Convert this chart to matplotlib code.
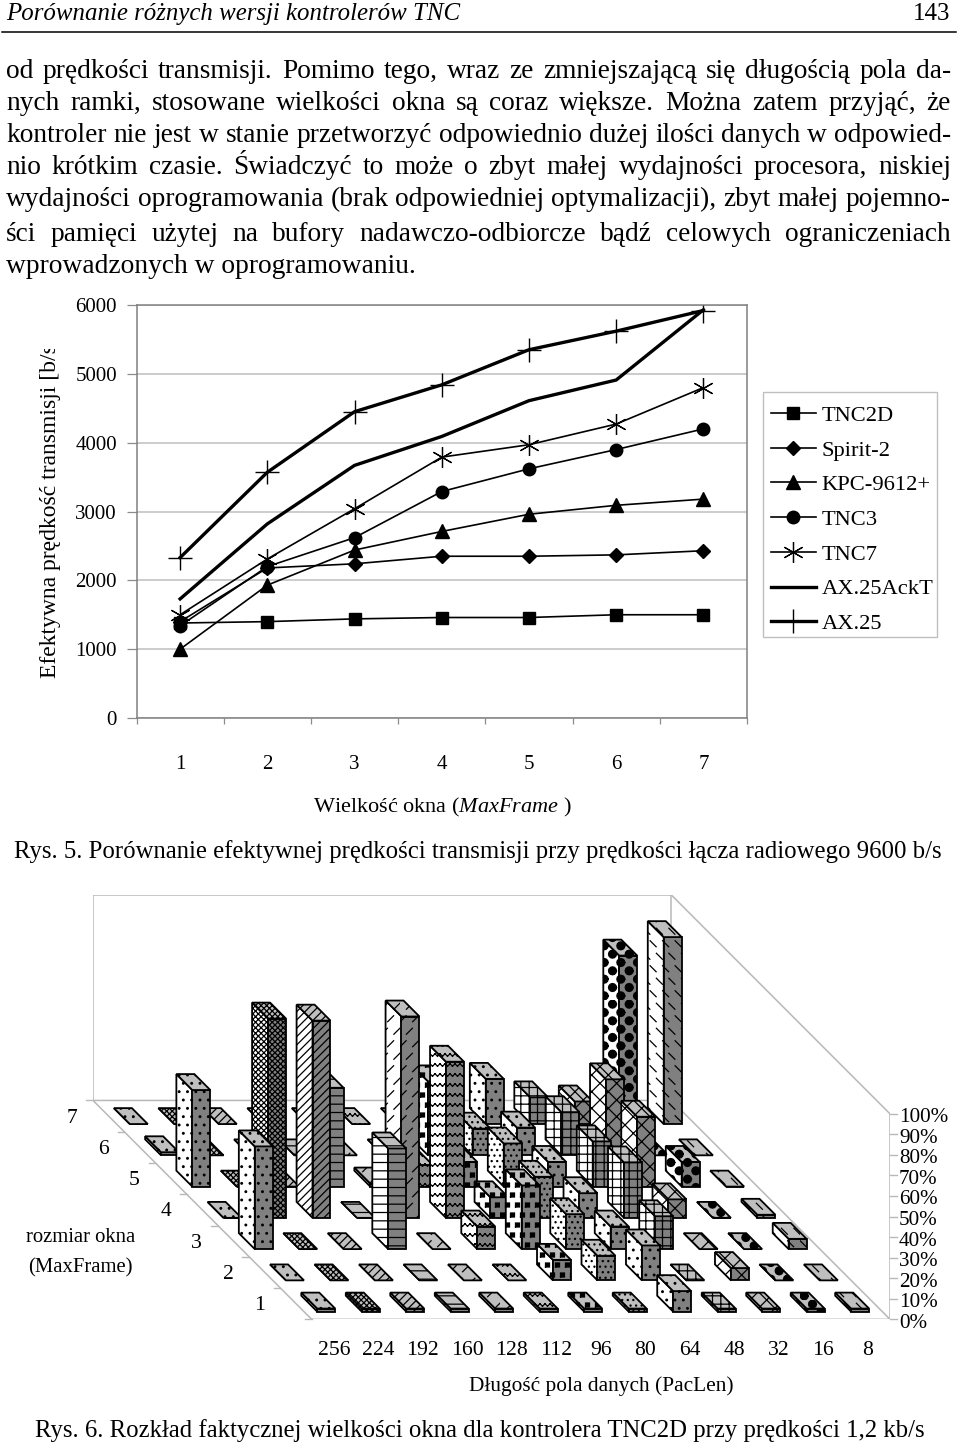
import warnings
import numpy as np
import matplotlib
matplotlib.use("Agg")
import matplotlib.pyplot as plt
import matplotlib.hatch as mhatch
from matplotlib.path import Path
from matplotlib.patches import Polygon, Rectangle

warnings.simplefilter('ignore')  # own hatch letters below are not on the official list

plt.rcParams['font.family'] = ['Liberation Serif', 'DejaVu Serif']
plt.rcParams['mathtext.fontset'] = 'custom'
plt.rcParams['mathtext.rm'] = 'Liberation Serif'
plt.rcParams['mathtext.it'] = 'Liberation Serif:italic'
plt.rcParams['hatch.linewidth'] = 0.9

# page text
header_left = "Porównanie różnych wersji kontrolerów TNC"
header_right = "143"
body_lines = [
    "od prędkości transmisji. Pomimo tego, wraz ze zmniejszającą się długością pola da-",
    "nych ramki, stosowane wielkości okna są coraz większe. Można zatem przyjąć, że",
    "kontroler nie jest w stanie przetworzyć odpowiednio dużej ilości danych w odpowied-",
    "nio krótkim czasie. Świadczyć to może o zbyt małej wydajności procesora, niskiej",
    "wydajności oprogramowania (brak odpowiedniej optymalizacji), zbyt małej pojemno-",
    "ści pamięci użytej na bufory nadawczo-odbiorcze bądź celowych ograniczeniach",
]
body_last = "wprowadzonych w oprogramowaniu."
body_base = [78, 110, 142, 174, 206, 241, 273]
caption5 = "Rys. 5. Porównanie efektywnej prędkości transmisji przy prędkości łącza radiowego 9600 b/s"
caption6 = "Rys. 6. Rozkład faktycznej wielkości okna dla kontrolera TNC2D przy prędkości 1,2 kb/s"

# line chart data
window = [1, 2, 3, 4, 5, 6, 7]
tnc2d = [1380, 1400, 1440, 1460, 1460, 1500, 1500]
spirit2 = [1400, 2180, 2240, 2350, 2350, 2370, 2430]
kpc9612 = [1000, 1930, 2440, 2710, 2960, 3090, 3180]
tnc3 = [1340, 2200, 2620, 3290, 3620, 3900, 4200]
tnc7 = [1500, 2310, 3040, 3790, 3970, 4270, 4800]
ax25ackt = [1730, 2820, 3670, 4090, 4610, 4910, 5930]
ax25 = [2330, 3570, 4450, 4840, 5350, 5620, 5920]

# bar chart data, share of window size per PacLen
paclen = [256, 224, 192, 160, 128, 112, 96, 80, 64, 48, 32, 16, 8]
okno_1 = [1.5, 1.5, 1.5, 1.5, 1.5, 1.5, 1.5, 1.5, 10, 1.5, 1.5, 1.5, 1.5]
okno_2 = [0, 0, 0, 0, 0, 0, 10, 12, 17, 0, 6, 0, 0]
okno_3 = [50, 0, 0, 49, 0, 11, 31, 17, 11, 16, 0, 0, 5]
okno_4 = [0, 97, 96, 0, 98, 76, 10, 20, 12, 27, 9, 0, 1.5]
okno_5 = [47, 0, 0, 48, 1.5, 10.5, 12, 21, 12, 22, 34, 12, 0]
okno_6 = [1.5, 0, 0, 0, 0, 0, 36, 13, 13.5, 21, 37, 0, 0]
okno_7 = [0, 0, 0, 0, 0, 0, 0, 0, 22, 13, 11, 82, 91]
okna = [okno_1, okno_2, okno_3, okno_4, okno_5, okno_6, okno_7]
hatches = ['..', 'xxxxxx', '////', '--', 'a', 'w', 'q', '...', '..', '++', 'xx', 'c', 'b']


# excel style fill patterns that matplotlib does not have
# letter: (repeats across, repeats up, pieces, closed)
def disc(r):
    t = np.linspace(0, 2 * np.pi, 13)[:-1]
    return [list(zip(r * np.cos(t), r * np.sin(t)))]


hatch_shapes = {
    'a': (8, 8, [[(-.03, -.03), (.03, .03)]], False),
    'b': (8, 8, [[(-.03, .03), (.03, -.03)]], False),
    'w': (10, 10, [[(-.05, -.012), (-.025, .012)], [(-.025, .012), (0, -.012)],
                   [(0, -.012), (.025, .012)], [(.025, .012), (.05, -.012)]], False),
    'q': (10, 10, [[(-.02, -.02), (.02, -.02), (.02, .02), (-.02, .02), (-.02, -.02)]], True),
    'c': (6, 12, disc(.04), True),
}


class TileHatch(mhatch.HatchPatternBase):
    def __init__(self, hatch, density):
        self.items = []
        for ch, (nx, ny, parts, closed) in hatch_shapes.items():
            if ch not in hatch:
                continue
            for j in range(ny):
                for i in range(nx):
                    ox = (i + 0.5 * (j % 2) + 0.25) / nx
                    oy = (j + 0.5) / ny
                    for part in parts:
                        self.items.append((ox, oy, part, closed))
        self.num_vertices = sum(len(p) + (1 if c and p[0] != p[-1] else 0) for _, _, p, c in self.items)

    def set_vertices_and_codes(self, vertices, codes):
        k = 0
        for ox, oy, part, closed in self.items:
            pts = list(part)
            if closed and pts[0] != pts[-1]:
                pts.append(pts[0])
            for m, (x, y) in enumerate(pts):
                vertices[k] = (x + ox, y + oy)
                codes[k] = Path.MOVETO if m == 0 else Path.LINETO
                k += 1


mhatch._hatch_types.append(TileHatch)

W, H = 960, 1445
fig = plt.figure(figsize=(W / 100, H / 100), dpi=100)


def box(x0, y0, x1, y1):
    return [x0 / W, 1 - y1 / H, (x1 - x0) / W, (y1 - y0) / H]


page = fig.add_axes([0, 0, 1, 1])
page.set_xlim(0, W)
page.set_ylim(H, 0)
page.axis('off')
renderer = fig.canvas.get_renderer()


def justified(line, y, x0=6, x1=951, size=19.7):
    words = line.split(' ')
    arts = [page.text(0, y, w, fontsize=size, va='baseline') for w in words]
    widths = [a.get_window_extent(renderer).width for a in arts]
    gap = (x1 - x0 - sum(widths)) / (len(words) - 1)
    x = x0
    for a, w in zip(arts, widths):
        a.set_x(x)
        x += w + gap


page.text(6, 20, header_left, fontsize=17.9, style='italic', va='baseline')
page.text(950, 20, header_right, fontsize=17.9, ha='right', va='baseline')
page.plot([2, 956], [32, 32], color='k', lw=1.1)
for line, y in zip(body_lines, body_base):
    justified(line, y)
page.text(6, body_base[6], body_last, fontsize=19.8, va='baseline')
page.text(14, 858, caption5, fontsize=17.85, va='baseline')
page.text(35, 1437, caption6, fontsize=17.8, va='baseline')

# figure 5
ax = fig.add_axes(box(136.5, 305, 747, 718))
ax.patch.set_alpha(0)
ax.plot(window, tnc2d, 'k-', marker='s', ms=8.6, lw=1.2, label='TNC2D')
ax.plot(window, spirit2, 'k-', marker='D', ms=7.6, lw=1.2, label='Spirit-2')
ax.plot(window, kpc9612, 'k-', marker='^', ms=9.5, lw=1.2, label='KPC-9612+')
ax.plot(window, tnc3, 'k-', marker='o', ms=9, lw=1.2, label='TNC3')
ax.plot(window, tnc7, 'k-', marker=(6, 2, 0), ms=15, mew=0.9, lw=1.2, label='TNC7')
ax.plot(window, ax25ackt, 'k-', lw=2.4, label='AX.25AckT')
ax.plot(window, ax25, 'k-', marker='+', ms=17, mew=1.0, lw=2.4, label='AX.25')
ax.set_xlim(0.5, 7.5)
ax.set_ylim(0, 6000)
ax.set_yticks(range(0, 6001, 1000))
ax.set_xticks([i + 0.5 for i in range(0, 8)], minor=False)
ax.set_xticklabels([])
ax.set_xticks(window, labels=[str(i) for i in window], minor=True)
ax.tick_params(axis='x', which='minor', length=0, labelsize=15, pad=26.5)
ax.tick_params(axis='x', which='major', length=4, width=0.9, color='0.55')
ax.tick_params(axis='y', length=7, width=0.9, color='0.55', labelsize=15, pad=7)
ax.grid(axis='y', color='0.75', lw=1.1)
ax.set_axisbelow(True)
for s in ax.spines.values():
    s.set_color('0.5')
    s.set_linewidth(1.1)
page.text(442, 812, r"Wielkość okna ($\mathit{MaxFrame}$ )", fontsize=16, ha='center', va='baseline')
ylab = page.text(51, 678, "Efektywna prędkość transmisji [b/s]", fontsize=17, rotation=90,
                 ha='center', va='bottom', clip_on=True)
ylab.set_clip_path(Rectangle((0, 349), 100, 400, transform=page.transData))
page.add_patch(Rectangle((763.3, 391.7), 173.7, 245, fc='white', ec='0.75', lw=1.0))
ax.legend(loc='upper left', bbox_to_anchor=((757.3 - 136.5) / 610.5, (718 - 391.7) / 413),
          borderaxespad=0, fontsize=16.2, frameon=False, handlelength=2.0,
          handletextpad=0.27, labelspacing=0.62, borderpad=0.6, numpoints=1)

# figure 6, sheared floor: one row moves the bar left and up
shear_x = 31.24 / 44.5
shear_y = 31.24 / 2.053
ax3 = fig.add_axes(box(93, 895, 890, 1319.3))
ax3.patch.set_alpha(0)
ax3.set_xlim(-7 * shear_x, 13)
ax3.set_ylim(0, 100 + 7 * shear_y)
ax3.axis('off')


def pt(col, row, pct):
    return (col - row * shear_x, pct + row * shear_y)


wall = '0.72'
ax3.plot(*zip(pt(0, 7, 100), pt(0, 7, 0), pt(0, 0, 0), pt(13, 0, 0), pt(13, 7, 0), pt(0, 7, 0)), color=wall, lw=1.1)
ax3.plot(*zip(pt(0, 7, 100), pt(13, 7, 100), pt(13, 7, 0)), color=wall, lw=1.1)
ax3.plot(*zip(pt(13, 7, 100), pt(13, 0, 100), pt(13, 0, 0)), color=wall, lw=1.1)

bw, bd = 0.404, 0.51
for r in range(6, -1, -1):
    for c in range(13):
        v = okna[r][c]
        x0, x1 = c + (1 - bw) / 2, c + (1 + bw) / 2
        y0, y1 = r + (1 - bd) / 2, r + (1 + bd) / 2
        h = hatches[c]
        left = [pt(x0, y0, 0), pt(x0, y1, 0), pt(x0, y1, v), pt(x0, y0, v)]
        front = [pt(x0, y0, 0), pt(x1, y0, 0), pt(x1, y0, v), pt(x0, y0, v)]
        top = [pt(x0, y0, v), pt(x1, y0, v), pt(x1, y1, v), pt(x0, y1, v)]
        for poly, fc in ((left, 'white'), (front, '0.5'), (top, '0.75')):
            ax3.add_patch(Polygon(poly, closed=True, fc=fc, ec='k', lw=1.3, hatch=h, zorder=3 + (6 - r)))

for c in range(14):
    ax3.plot(*zip(pt(c, 0, 0), pt(c, 0, -3.2)), color=wall, lw=1.0)
for c, lab in enumerate(paclen):
    xp, yp = pt(c + 0.5, 0, 0)
    ax3.annotate(str(lab), (xp, yp), xytext=(0, -15.7), textcoords='offset points',
                 ha='center', va='top', fontsize=15.6)
for p in range(0, 101, 10):
    xp, yp = pt(13, 0, p)
    ax3.plot([xp, xp + 0.15], [yp, yp], color=wall, lw=1.0, clip_on=False)
    ax3.annotate(f"{p}%", (xp, yp), xytext=(6.5, -2.8), textcoords='offset points',
                 ha='left', va='center', fontsize=15.2)
for r in range(8):
    ax3.plot(*zip(pt(0, r, 0), pt(-0.15, r, 0)), color=wall, lw=1.0, clip_on=False)
for r in range(7):
    xp, yp = pt(0, r + 0.5, 0)
    ax3.annotate(str(r + 1), (xp, yp), xytext=(-22.5, -1.5), textcoords='offset points',
                 ha='right', va='center', fontsize=15.6)

page.text(80.5, 1238, "rozmiar okna", fontsize=14.9, ha='center', va='center')
page.text(80.5, 1268, "(MaxFrame)", fontsize=14.9, ha='center', va='center')
page.text(601, 1386, "Długość pola danych (PacLen)", fontsize=15.4, ha='center', va='center')

fig.savefig('out.png', dpi=100)
